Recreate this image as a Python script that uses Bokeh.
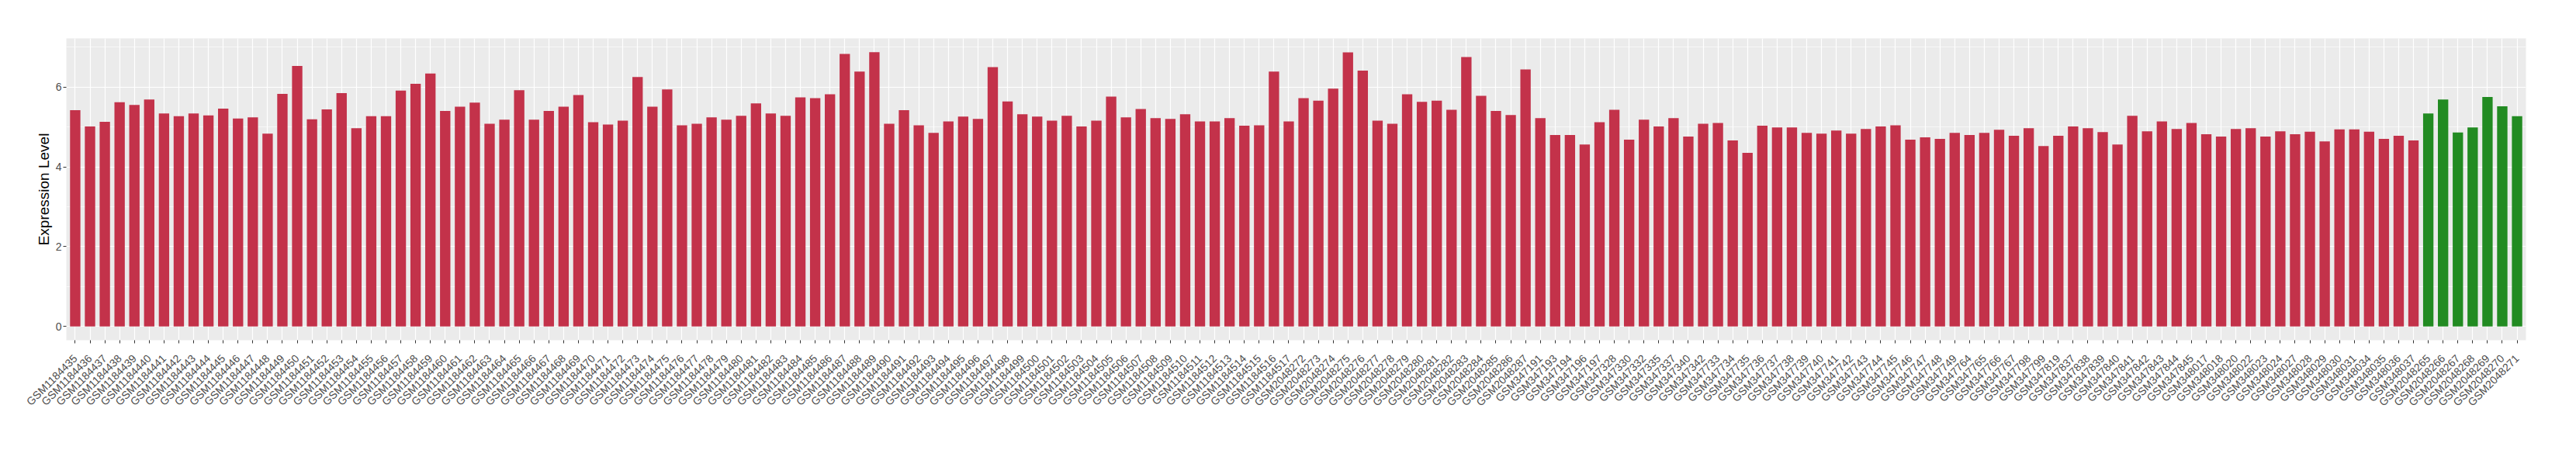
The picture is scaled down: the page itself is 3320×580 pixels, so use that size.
import math
from bokeh.plotting import figure
from bokeh.models import ColumnDataSource, Range1d, FixedTicker
from bokeh.embed import file_html
from bokeh.resources import INLINE

# ---------------- data ----------------
ids_a = ["GSM%d" % i for i in range(1184435, 1184518)]
vals_a = [5.42, 5.01, 5.13, 5.62, 5.55, 5.69, 5.34, 5.27, 5.34, 5.29,
          5.46, 5.21, 5.24, 4.83, 5.83, 6.53, 5.19, 5.44, 5.85, 4.97,
          5.27, 5.27, 5.91, 6.08, 6.34, 5.40, 5.51, 5.61, 5.08, 5.18,
          5.92, 5.18, 5.40, 5.51, 5.80, 5.12, 5.06, 5.16, 6.25, 5.51,
          5.94, 5.04, 5.08, 5.24, 5.18, 5.28, 5.59, 5.34, 5.28, 5.74,
          5.72, 5.82, 6.83, 6.39, 6.875, 5.08, 5.42, 5.04, 4.85, 5.14,
          5.26, 5.20, 6.50, 5.64, 5.32, 5.26, 5.16, 5.28, 5.01, 5.16,
          5.76, 5.24, 5.45, 5.22, 5.20, 5.32, 5.14, 5.14, 5.22, 5.03,
          5.04, 6.39, 5.14]

ids_b = ["GSM%d" % i for i in range(2048272, 2048288)]
vals_b = [5.72, 5.66, 5.96, 6.87, 6.41, 5.16, 5.08, 5.82, 5.63, 5.66,
          5.43, 6.75, 5.78, 5.40, 5.30, 6.44]

ids_c = ["GSM347191", "GSM347193", "GSM347194", "GSM347196", "GSM347197",
         "GSM347328", "GSM347330", "GSM347332", "GSM347335", "GSM347337",
         "GSM347340", "GSM347342", "GSM347733", "GSM347734", "GSM347735",
         "GSM347736", "GSM347737", "GSM347738", "GSM347739", "GSM347740",
         "GSM347741", "GSM347742", "GSM347743", "GSM347744", "GSM347745",
         "GSM347746", "GSM347747", "GSM347748", "GSM347749", "GSM347764",
         "GSM347765", "GSM347766", "GSM347767", "GSM347798", "GSM347799",
         "GSM347819", "GSM347837", "GSM347838", "GSM347839", "GSM347840",
         "GSM347841", "GSM347842", "GSM347843", "GSM347844", "GSM347845",
         "GSM348017", "GSM348018", "GSM348020", "GSM348022", "GSM348023",
         "GSM348024", "GSM348027", "GSM348028", "GSM348029", "GSM348030",
         "GSM348031", "GSM348034", "GSM348035", "GSM348036", "GSM348037"]
vals_c = [5.22, 4.80, 4.80, 4.56, 5.12, 5.43, 4.68, 5.18, 5.01, 5.22,
          4.76, 5.08, 5.10, 4.66, 4.35, 5.03, 4.99, 4.99, 4.85, 4.83,
          4.91, 4.83, 4.95, 5.01, 5.04, 4.68, 4.74, 4.70, 4.85, 4.80,
          4.85, 4.93, 4.78, 4.97, 4.52, 4.78, 5.01, 4.97, 4.87, 4.56,
          5.28, 4.89, 5.14, 4.95, 5.10, 4.82, 4.76, 4.95, 4.97, 4.76,
          4.89, 4.82, 4.88, 4.64, 4.94, 4.94, 4.88, 4.70, 4.78, 4.66]

ids_d = ["GSM%d" % i for i in range(2048265, 2048272)]
vals_d = [5.34, 5.69, 4.86, 4.99, 5.75, 5.52, 5.27]

group_colors = {"red": "#C3324A", "green": "#228B22"}

samples = ids_a + ids_b + ids_c + ids_d
values = vals_a + vals_b + vals_c + vals_d
groups = ["red"] * (len(ids_a) + len(ids_b) + len(ids_c)) + ["green"] * len(ids_d)

y_ticks = [0, 2, 4, 6]
y_minor = [1, 3, 5, 7]

# ---------------- plot ----------------
n = len(samples)
src = ColumnDataSource(dict(
    x=list(range(n)),
    value=values,
    color=[group_colors[g] for g in groups],
))

ymax = max(values)
p = figure(width=3300, height=560,
           x_range=Range1d(-0.6, n - 1 + 0.6),
           y_range=Range1d(-0.05 * ymax, 1.05 * ymax),
           output_backend="svg", toolbar_location=None,
           min_border_left=85, min_border_right=45,
           min_border_top=49, min_border_bottom=122)

p.vbar(x="x", top="value", width=0.7, source=src,
       fill_color="color", line_color=None)

p.background_fill_color = "#EBEBEB"
p.border_fill_color = "white"
p.outline_line_color = None

font = "Liberation Sans"

p.xaxis.ticker = FixedTicker(ticks=list(range(n)))
p.xaxis.major_label_overrides = {i: s for i, s in enumerate(samples)}
p.xaxis.major_label_orientation = math.pi / 4

p.yaxis.ticker = FixedTicker(ticks=y_ticks, minor_ticks=y_minor)
p.yaxis.axis_label = "Expression Level"

for ax in (p.xaxis[0], p.yaxis[0]):
    ax.axis_line_color = None
    ax.major_tick_line_color = "#333333"
    ax.major_tick_line_width = 1
    ax.major_tick_out = 4
    ax.major_tick_in = 0
    ax.minor_tick_line_color = None
    ax.major_label_text_font = font
    ax.major_label_text_font_size = "14px"
    ax.major_label_text_color = "#4D4D4D"
    ax.major_label_standoff = 2
    ax.axis_label_text_font = font
    ax.axis_label_text_font_size = "19px"
    ax.axis_label_text_font_style = "normal"
    ax.axis_label_text_color = "black"
    ax.axis_label_standoff = 2

p.xaxis.major_label_standoff = 17

p.xgrid.grid_line_color = "white"
p.xgrid.grid_line_width = 1.2
p.ygrid.grid_line_color = "white"
p.ygrid.grid_line_width = 1.2
p.ygrid.minor_grid_line_color = "white"
p.ygrid.minor_grid_line_width = 0.6

open("out.html", "w").write(file_html(p, INLINE))
